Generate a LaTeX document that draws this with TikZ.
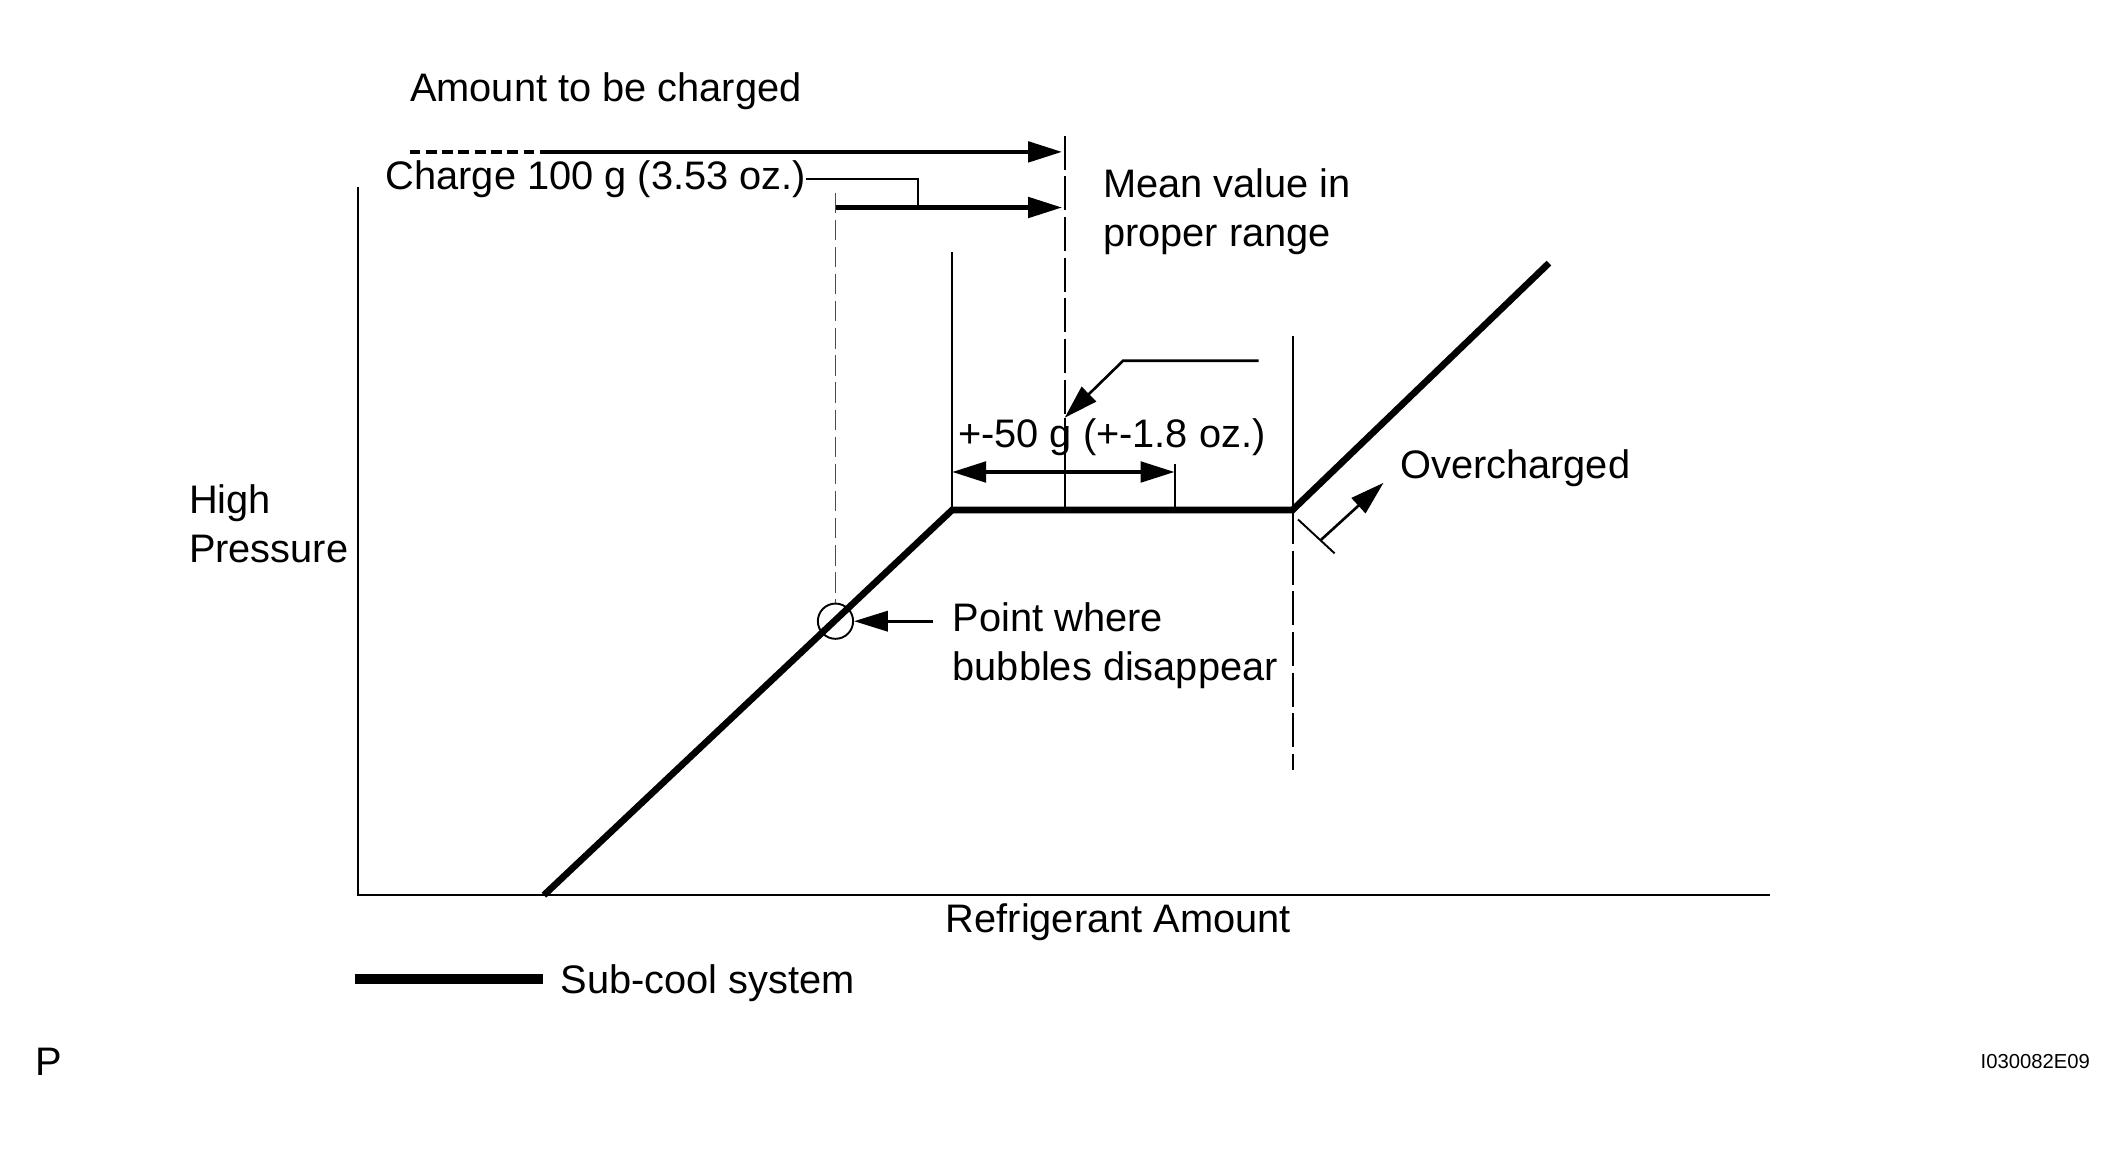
\documentclass[tikz,border=0pt]{standalone}
\usepackage{fontspec}
\setmainfont{Liberation Sans}
\usetikzlibrary{arrows.meta}
\tikzset{every picture/.style={x=0.02cm,y=-0.02cm},
  lbl/.style={inner sep=0pt, anchor=west, align=left, font=\fontsize{16.7}{20.4}\selectfont},
  tiny/.style={inner sep=0pt, anchor=west, font=\fontsize{8.5}{10}\selectfont},
  fine/.style={line width=0.8pt},
  curve/.style={line width=2.8pt, line join=miter},
  head/.style={-{Triangle[length=0.5cm,width=0.3cm]}},
  pointer/.style={head, line width=1.7pt},
  leader/.style={head, line width=1.1pt},
  span/.style={{Triangle[length=0.5cm,width=0.3cm]}-{Triangle[length=0.5cm,width=0.3cm]}, line width=1.7pt},
  longdash/.style={fine, dash pattern=on 0.5cm off 0.1cm},
  bubble/.style={circle, draw, fine, minimum size=0.52cm, inner sep=0pt}}
\begin{document}
\begin{tikzpicture}
  \useasboundingbox (0,0) rectangle (1566,847);

  % axes
  \coordinate (ytop) at (264,138);
  \coordinate (o) at (264,660);
  \coordinate (xend) at (1305,660);
  \draw[fine] (ytop) -- (o) -- (xend);

  % sub-cool curve
  \coordinate (c0) at (401,660);
  \coordinate (c1) at (702,376);
  \coordinate (c2) at (953,376);
  \coordinate (c3) at (1142,194);
  \draw[curve] (c0) -- (c1) -- (c2) -- (c3);

  % bubbles point
  \node[bubble] (bub) at (616,458) {};
  \node[lbl] (point) at (702,476) {Point where\\bubbles disappear};
  \coordinate (pt) at (688,458);
  \draw[leader] (pt) -- (bub.east);
  \coordinate (b0) at (616,142);
  \draw[fine, black!70, dash pattern=on 0.3cm off 0.1cm] (b0) -- (bub.north);

  % amount to be charged
  \node[lbl] (amount) at (302,67) {Amount to be charged};
  \coordinate (a0) at (302,112);
  \coordinate (a1) at (405,112);
  \coordinate (a2) at (783,112);
  \draw[line width=1.7pt, dash pattern=on 0.16cm off 0.08cm] (a0) -- (a1);
  \draw[pointer] (a1) -- (a2);

  \node[lbl] (charge) at (284,132) {Charge 100 g (3.53 oz.)};
  \coordinate (k1) at (677,153);
  \coordinate (k0) at (616,153);
  \coordinate (k2) at (783,153);
  \draw[fine] (charge.east) -| (k1);
  \draw[pointer] (k0) -- (k2);

  % mean value
  \node[lbl] (mean) at (813,156) {Mean value in\\proper range};
  \coordinate (m0) at (785,100);
  \coordinate (m1) at (785,308);
  \coordinate (m2) at (785,376);
  \draw[longdash] (m0) -- (m1);
  \draw[fine] (m1) -- (m2);
  \coordinate (l0) at (928,266);
  \coordinate (l1) at (828,266);
  \draw[leader] (l0) -- (l1) -- (m1);

  % proper range
  \coordinate (r0) at (702,186);
  \coordinate (r1) at (866,342);
  \coordinate (r2) at (866,376);
  \draw[fine] (r0) -- (c1);
  \draw[fine] (r1) -- (r2);
  \coordinate (d0) at (702,348);
  \coordinate (d1) at (866,348);
  \draw[span] (d0) -- (d1);
  \node[lbl] (range) at (706,322) {+-50 g (+-1.8 oz.)};

  % overcharged
  \coordinate (v0) at (953,248);
  \coordinate (v1) at (953,568);
  \draw[fine] (v0) -- (c2);
  \draw[longdash] (c2) -- (v1);
  \coordinate (t0) at (957,383);
  \coordinate (t1) at (984,408);
  \coordinate (tm) at (974,398);
  \coordinate (ov) at (1020,356);
  \draw[fine] (t0) -- (t1);
  \draw[leader] (tm) -- (ov);
  \node[lbl] (over) at (1032,345) {Overcharged};

  % axis labels
  \node[lbl] (high) at (139,386) {High\\Pressure};
  \node[lbl] (refr) at (697,680) {Refrigerant Amount};

  % legend
  \coordinate (g0) at (262,722);
  \coordinate (g1) at (400,722);
  \draw[line width=4pt] (g0) -- (g1);
  \node[lbl] (sub) at (413,725) {Sub-cool system};

  \node[lbl] (p) at (26,783) {P};
  \node[tiny] (code) at (1460,783) {I030082E09};
\end{tikzpicture}
\end{document}
